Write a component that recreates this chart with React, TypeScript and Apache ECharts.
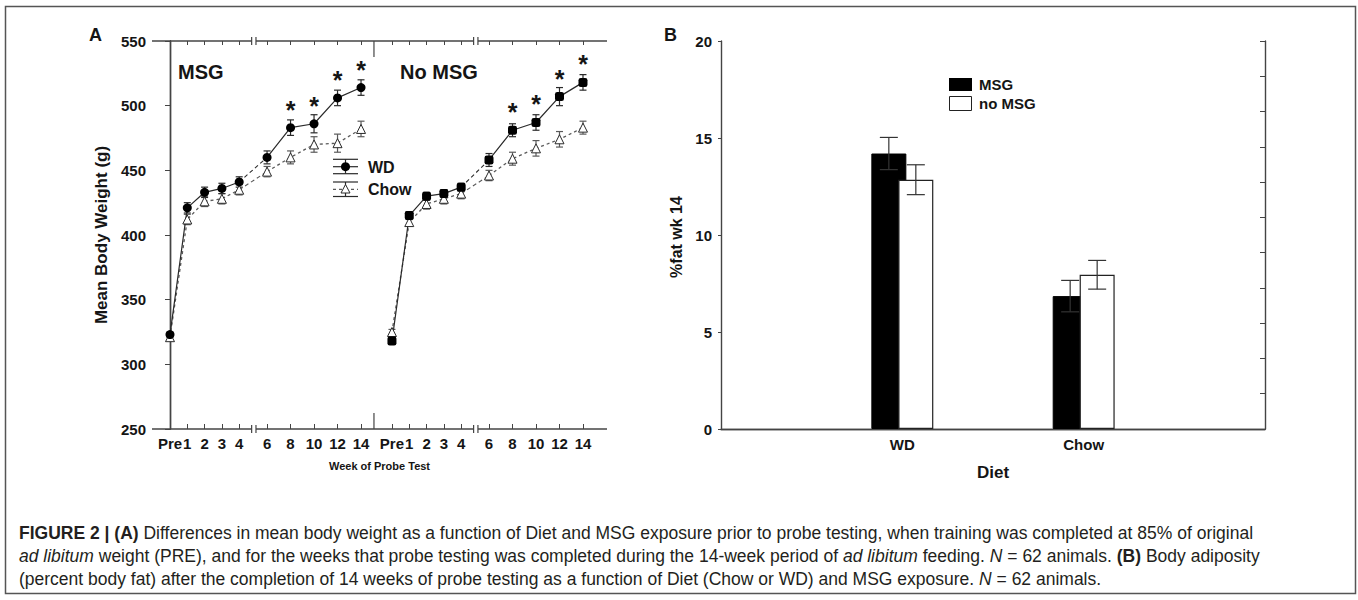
import React, { useEffect, useRef } from 'react';
import * as echarts from 'echarts';

// ---------- Panel A data (mean body weight, g) ----------
const weekLabels = ['Pre', '1', '2', '3', '4', '6', '8', '10', '12', '14'];
const weeks = [0, 1, 2, 3, 4, 6, 8, 10, 12, 14];
const msgWD = [323, 421, 433, 436, 441, 460, 483, 486, 506, 514];
const msgWDErr = [2, 4, 4, 4, 4, 5, 6, 7, 6, 6];
const msgChow = [321, 412, 426, 428, 435, 449, 460, 470, 471, 482];
const msgChowErr = [2, 4, 4, 4, 4, 4, 5, 6, 7, 6];
const noMsgWD = [318, 415, 430, 432, 437, 458, 481, 487, 507, 518];
const noMsgWDErr = [2, 3, 3, 3, 3, 5, 5, 6, 7, 6];
const noMsgChow = [325, 410, 424, 428, 432, 446, 459, 467, 474, 483];
const noMsgChowErr = [2, 3, 4, 4, 4, 4, 5, 6, 6, 5];
const sigWeeks = [8, 10, 12, 14];

// ---------- Panel B data (% fat at week 14) ----------
const dietCats = ['WD', 'Chow'];
const fatMSG = [14.2, 6.85];
const fatMSGErr = [0.83, 0.81];
const fatNoMSG = [12.85, 7.95];
const fatNoMSGErr = [0.77, 0.74];

// ---------- broken-axis layout for panel A ----------
const PANEL_SHIFT = 12.83;
const LATE_START = 5.61;
const LATE_STEP = 0.679;
const X_MIN = -1.04;
const X_MAX = 25.26;
const BREAK_L = 4.72;
const BREAK_R = 4.97;
const DIVIDER = 11.79;
const xPos = (week: number, panel: number) =>
  panel * PANEL_SHIFT + (week <= 4 ? week : LATE_START + (week - 6) * LATE_STEP);

const FONT = '"Liberation Sans", Arial, Helvetica, sans-serif';
const INK = '#151515';

const tickVals: number[] = [];
const tickLabels: string[] = [];
[0, 1].forEach((p) => {
  weeks.forEach((w, i) => {
    tickVals.push(xPos(w, p));
    tickLabels.push(weekLabels[i]);
  });
});
const labelFor = (v: number) => {
  let best = 0;
  let bd = Infinity;
  tickVals.forEach((t, i) => {
    const d = Math.abs(t - v);
    if (d < bd) { bd = d; best = i; }
  });
  return bd < 0.05 ? tickLabels[best] : '';
};

const errRender = (color: string, half: number, dx = 0) => (params: any, api: any) => {
  const x = api.value(0);
  const y = api.value(1);
  const e = api.value(2);
  const t = api.coord([x, y + e]);
  const b = api.coord([x, y - e]);
  const cx = t[0] + dx;
  const st = { stroke: color, lineWidth: 1.2 };
  return {
    type: 'group',
    children: [
      { type: 'line', shape: { x1: cx, y1: t[1], x2: cx, y2: b[1] }, style: st },
      { type: 'line', shape: { x1: cx - half, y1: t[1], x2: cx + half, y2: t[1] }, style: st },
      { type: 'line', shape: { x1: cx - half, y1: b[1], x2: cx + half, y2: b[1] }, style: st },
    ],
  };
};

function panelSeries(p: number, vals: number[], errs: number[], isWD: boolean) {
  const color = isWD ? '#2a2a2a' : '#5a5a5a';
  const lineStyle = isWD
    ? { color, width: 1.2, type: 'solid' as const }
    : { color, width: 1.3, type: [3, 3] as any };
  const symbol = isWD ? (p === 0 ? 'circle' : 'roundRect') : 'triangle';
  const itemStyle = isWD
    ? { color: '#000', borderColor: '#000', borderWidth: 0 }
    : { color: '#fff', borderColor: '#2a2a2a', borderWidth: 1 };
  const early = weeks.slice(0, 5).map((w, i) => [xPos(w, p), vals[i]]);
  const late = weeks.slice(5).map((w, i) => {
    const v = vals[i + 5];
    return isWD
      ? { value: [xPos(w, p), v], label: { show: sigWeeks.includes(w) } }
      : { value: [xPos(w, p), v] };
  });
  const bridge = [
    [xPos(4, p), vals[4]],
    [xPos(6, p), vals[5]],
  ];
  const base = { xAxisIndex: 0, yAxisIndex: 0, silent: true };
  return [
    {
      ...base,
      type: 'custom',
      z: 1,
      renderItem: errRender(color, 3.5),
      encode: { x: 0, y: 1 },
      data: weeks.map((w, i) => [xPos(w, p), vals[i], errs[i]]),
    },
    {
      ...base,
      type: 'line',
      z: 2,
      symbol: 'none',
      lineStyle: { color, width: 1.1, type: [4, 3] as any },
      data: bridge,
    },
    {
      ...base,
      type: 'line',
      z: 3,
      symbol,
      symbolSize: 9,
      lineStyle,
      itemStyle,
      data: early,
    },
    {
      ...base,
      type: 'line',
      z: 3,
      symbol,
      symbolSize: 9,
      lineStyle,
      itemStyle,
      label: {
        show: false,
        position: 'top',
        distance: 1,
        formatter: '*',
        fontSize: 25,
        fontWeight: 'bold',
        fontFamily: FONT,
        color: INK,
      },
      data: late,
    },
  ];
}

const axisDecor = (params: any, api: any) => {
  const st = { stroke: '#444', lineWidth: 1.4 };
  const seg = (a: number, b: number, y: number) => {
    const p1 = api.coord([a, y]);
    const p2 = api.coord([b, y]);
    return { type: 'line', shape: { x1: p1[0], y1: p1[1], x2: p2[0], y2: p2[1] }, style: st };
  };
  const vmark = (x: number, y: number, up: number, down: number) => {
    const p = api.coord([x, y]);
    return { type: 'line', shape: { x1: p[0], y1: p[1] - up, x2: p[0], y2: p[1] + down }, style: { stroke: '#444', lineWidth: 1.2 } };
  };
  const children: any[] = [];
  [250, 550].forEach((y) => {
    children.push(seg(X_MIN, BREAK_L, y));
    children.push(seg(BREAK_R, PANEL_SHIFT + BREAK_L, y));
    children.push(seg(PANEL_SHIFT + BREAK_R, X_MAX, y));
    [BREAK_L, BREAK_R, PANEL_SHIFT + BREAK_L, PANEL_SHIFT + BREAK_R].forEach((x) => {
      children.push(vmark(x, y, 4, 4));
    });
  });
  children.push(vmark(DIVIDER, 250, 16, 0));
  children.push(vmark(DIVIDER, 550, 0, 16));
  return { type: 'group', children };
};

export default function App() {
  const ref = useRef<HTMLDivElement>(null);
  useEffect(() => {
    document.body.style.margin = '0';
    const chart = echarts.init(ref.current!, undefined, { renderer: 'svg' });

    const labelStyle = { fontFamily: FONT, fontWeight: 'bold' as const, color: INK };

    const series: any[] = [
      ...panelSeries(0, msgChow, msgChowErr, false),
      ...panelSeries(0, msgWD, msgWDErr, true),
      ...panelSeries(1, noMsgChow, noMsgChowErr, false),
      ...panelSeries(1, noMsgWD, noMsgWDErr, true),
      {
        type: 'custom',
        xAxisIndex: 0,
        yAxisIndex: 0,
        silent: true,
        z: 5,
        renderItem: axisDecor,
        data: [[0, 400]],
      },
      {
        type: 'bar',
        name: 'MSG',
        xAxisIndex: 2,
        yAxisIndex: 2,
        barWidth: 35,
        barGap: '-23%',
        itemStyle: { color: '#000', borderColor: '#000', borderWidth: 1 },
        data: ['-', ...fatMSG, '-'],
        silent: true,
      },
      {
        type: 'bar',
        name: 'no MSG',
        xAxisIndex: 2,
        yAxisIndex: 2,
        barWidth: 35,
        barGap: '-23%',
        itemStyle: { color: '#fff', borderColor: '#222', borderWidth: 1.2 },
        data: ['-', ...fatNoMSG, '-'],
        silent: true,
      },
      {
        type: 'custom',
        xAxisIndex: 2,
        yAxisIndex: 2,
        silent: true,
        z: 4,
        renderItem: errRender('#333', 9, -13.5),
        data: fatMSG.map((v, i) => [i + 1, v, fatMSGErr[i]]),
      },
      {
        type: 'custom',
        xAxisIndex: 2,
        yAxisIndex: 2,
        silent: true,
        z: 4,
        renderItem: errRender('#333', 9, 13.5),
        data: fatNoMSG.map((v, i) => [i + 1, v, fatNoMSGErr[i]]),
      },
    ];

    const axisLine = { show: true, lineStyle: { color: '#444', width: 1.4 } };
    const tickStyle = { color: '#444', width: 1 };
    const CAP = 17.5;

    const capText = (y: number, text: string) => ({
      type: 'text',
      x: 19,
      y,
      style: {
        text,
        fontFamily: FONT,
        fontSize: CAP,
        fill: '#231f20',
        verticalAlign: 'middle',
        rich: {
          b: { fontWeight: 'bold', fontFamily: FONT, fontSize: CAP, fill: '#231f20' },
          i: { fontStyle: 'italic', fontFamily: FONT, fontSize: CAP, fill: '#231f20' },
        },
      },
    });

    const txt = (x: number, y: number, text: string, size: number, extra: any = {}) => ({
      type: 'text',
      x,
      y,
      silent: true,
      style: {
        text,
        fontFamily: FONT,
        fontWeight: 'bold',
        fontSize: size,
        fill: INK,
        verticalAlign: 'middle',
        ...extra,
      },
    });

    const gl = (x1: number, y1: number, x2: number, y2: number) => ({
      type: 'line',
      silent: true,
      shape: { x1, y1, x2, y2 },
      style: { stroke: '#2a2a2a', lineWidth: 1.2 },
    });

    chart.setOption({
      animation: false,
      backgroundColor: '#fff',
      grid: [
        { left: 152, top: 41, width: 455, height: 388, outerBoundsMode: 'none' },
        { left: 721, top: 41, width: 544, height: 388, outerBoundsMode: 'none' },
      ],
      xAxis: [
        {
          type: 'value',
          gridIndex: 0,
          position: 'bottom',
          min: X_MIN,
          max: X_MAX,
          axisLine: { show: false },
          splitLine: { show: false },
          axisTick: { show: true, inside: true, length: 5, customValues: tickVals, lineStyle: tickStyle },
          axisLabel: {
            ...labelStyle,
            fontSize: 15,
            margin: 7,
            customValues: tickVals,
            formatter: (v: number) => labelFor(v),
          },
        },
        {
          type: 'value',
          gridIndex: 0,
          position: 'top',
          min: X_MIN,
          max: X_MAX,
          axisLine: { show: false },
          splitLine: { show: false },
          axisTick: { show: true, inside: true, length: 4, customValues: tickVals, lineStyle: tickStyle },
          axisLabel: { show: false },
        },
        {
          type: 'category',
          gridIndex: 1,
          position: 'bottom',
          data: ['', ...dietCats, ''],
          boundaryGap: false,
          axisLine,
          axisTick: {
            show: true,
            inside: true,
            length: 5,
            interval: (i: number) => i === 1 || i === 2,
            lineStyle: tickStyle,
          },
          axisLabel: { ...labelStyle, fontSize: 15, margin: 8, interval: 0 },
        },
        {
          type: 'category',
          gridIndex: 1,
          position: 'top',
          data: ['', ...dietCats, ''],
          boundaryGap: false,
          axisLine,
          axisTick: { show: false },
          axisLabel: { show: false },
        },
      ],
      yAxis: [
        {
          type: 'value',
          gridIndex: 0,
          position: 'left',
          min: 250,
          max: 550,
          interval: 50,
          axisLine,
          splitLine: { show: false },
          axisTick: { show: true, length: 3, lineStyle: tickStyle },
          axisLabel: { ...labelStyle, fontSize: 15, margin: 6 },
        },
        {
          type: 'value',
          gridIndex: 0,
          position: 'right',
          min: 250,
          max: 550,
          interval: 50,
          axisLine,
          splitLine: { show: false },
          axisTick: { show: true, inside: true, length: 5, lineStyle: tickStyle },
          axisLabel: { show: false },
        },
        {
          type: 'value',
          gridIndex: 1,
          position: 'left',
          min: 0,
          max: 20,
          interval: 5,
          axisLine,
          splitLine: { show: false },
          axisTick: { show: true, length: 3, lineStyle: tickStyle },
          axisLabel: { ...labelStyle, fontSize: 15, margin: 9 },
        },
        {
          type: 'value',
          gridIndex: 1,
          position: 'right',
          min: 0,
          max: 11,
          interval: 1,
          axisLine,
          splitLine: { show: false },
          axisTick: { show: true, inside: true, length: 5, lineStyle: tickStyle },
          axisLabel: { show: false },
        },
      ],
      series,
      graphic: [
        {
          type: 'rect',
          silent: true,
          z: -10,
          shape: { x: 5.5, y: 6.5, width: 1350, height: 587 },
          style: { fill: 'none', stroke: '#555', lineWidth: 1.5 },
        },
        txt(89, 35, 'A', 18),
        txt(664, 35, 'B', 18),
        txt(178, 72, 'MSG', 20),
        txt(400, 72, 'No MSG', 20),
        // panel A legend
        gl(333, 166.7, 358, 166.7),
        gl(333, 159.3, 358, 159.3),
        gl(333, 173.7, 358, 173.7),
        gl(345.5, 159.3, 345.5, 173.7),
        {
          type: 'circle',
          silent: true,
          shape: { cx: 345.5, cy: 166.7, r: 4.5 },
          style: { fill: '#000' },
        },
        txt(368, 167, 'WD', 16),
        {
          type: 'line',
          silent: true,
          shape: { x1: 333, y1: 189.3, x2: 358, y2: 189.3 },
          style: { stroke: '#5a5a5a', lineWidth: 1.3, lineDash: [3, 3] },
        },
        gl(333, 182, 358, 182),
        gl(333, 196.5, 358, 196.5),
        gl(345.5, 182, 345.5, 196.5),
        {
          type: 'polygon',
          silent: true,
          shape: { points: [[345.5, 184.5], [341, 193], [350, 193]] },
          style: { fill: '#fff', stroke: '#2a2a2a', lineWidth: 1 },
        },
        txt(368, 189.5, 'Chow', 16),
        // axis titles
        {
          ...txt(101.7, 235, 'Mean Body Weight (g)', 17, { align: 'center' }),
          rotation: Math.PI / 2,
        },
        txt(379.5, 466, 'Week of Probe Test', 11, { align: 'center' }),
        {
          ...txt(676, 237, '%fat wk 14', 16, { align: 'center' }),
          rotation: Math.PI / 2,
        },
        txt(993, 472, 'Diet', 17, { align: 'center' }),
        // panel B legend
        {
          type: 'rect',
          silent: true,
          shape: { x: 949, y: 78, width: 23, height: 13 },
          style: { fill: '#000' },
        },
        {
          type: 'rect',
          silent: true,
          shape: { x: 949.5, y: 96.5, width: 22, height: 14 },
          style: { fill: '#fff', stroke: '#222', lineWidth: 1 },
        },
        txt(979, 84.5, 'MSG', 15),
        txt(979, 103.5, 'no MSG', 15),
        // caption
        capText(533, '{b|FIGURE 2 | (A)} Differences in mean body weight as a function of Diet and MSG exposure prior to probe testing, when training was completed at 85% of original'),
        capText(556, '{i|ad libitum} weight (PRE), and for the weeks that probe testing was completed during the 14-week period of {i|ad libitum} feeding. {i|N} = 62 animals. {b|(B)} Body adiposity'),
        capText(579, '(percent body fat) after the completion of 14 weeks of probe testing as a function of Diet (Chow or WD) and MSG exposure. {i|N} = 62 animals.'),
      ],
    });

    return () => chart.dispose();
  }, []);

  return <div ref={ref} style={{ width: 1358, height: 600 }} />;
}
